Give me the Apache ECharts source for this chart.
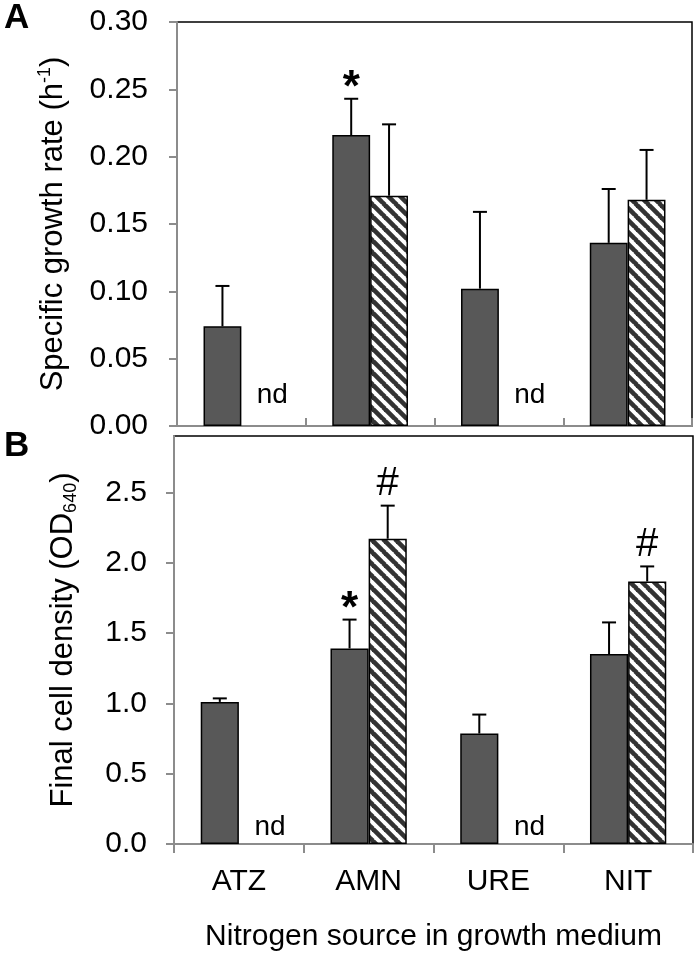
<!DOCTYPE html>
<html>
<head>
<meta charset="utf-8">
<script src="https://cdn.jsdelivr.net/npm/echarts@6/dist/echarts.min.js"></script>
<style>html,body{margin:0;padding:0;background:#fff}#c{width:700px;height:957px}</style>
</head>
<body>
<div id="c"></div>
<script>
// ---- data ----
const categories = ['ATZ', 'AMN', 'URE', 'NIT'];
// Panel A: specific growth rate (h^-1)
const growthDark = [0.074, 0.216, 0.102, 0.136];
const growthDarkErr = [0.030, 0.027, 0.057, 0.040];
const growthHatch = [null, 0.171, null, 0.168];
const growthHatchErr = [null, 0.053, null, 0.037];
const growthDarkMark = ['', '*', '', ''];
const growthHatchMark = ['nd', '', 'nd', ''];
// Panel B: final cell density (OD640)
const densityDark = [1.01, 1.39, 0.785, 1.35];
const densityDarkErr = [0.025, 0.205, 0.135, 0.225];
const densityHatch = [null, 2.17, null, 1.866];
const densityHatchErr = [null, 0.235, null, 0.107];
const densityDarkMark = ['', '*', '', ''];
const densityHatchMark = ['nd', '#', 'nd', '#'];
const yTicksB = [0, 0.5, 1.0, 1.5, 2.0, 2.5];

const FONT = '"Liberation Sans", Arial, sans-serif';
const BARW = 0.294;

// hatch pattern
function makeHatch() {
  const s = 12;
  const cv = document.createElement('canvas');
  cv.width = s; cv.height = s;
  const ctx = cv.getContext('2d');
  ctx.fillStyle = '#ffffff';
  ctx.fillRect(0, 0, s, s);
  ctx.strokeStyle = '#333333';
  ctx.lineWidth = 4.6;
  for (const k of [-s, 0, s]) {
    ctx.beginPath();
    ctx.moveTo(k - 1, -1);
    ctx.lineTo(k + s + 1, s + 1);
    ctx.stroke();
  }
  return cv;
}
const hatch = makeHatch();

function buildItems(dark, darkErr, darkMark, hat, hatErr, hatMark) {
  const items = [];
  categories.forEach((c, i) => {
    items.push({ cat: i, s: 0, v: dark[i], e: darkErr[i], m: darkMark[i] });
    items.push({ cat: i, s: 1, v: hat[i], e: hatErr[i], m: hatMark[i] });
  });
  return items;
}

const MARKS = {
  '*': { font: 'bold 44px ', size: 44, glyphCenter: 0.78, gap: 22 },
  '#': { font: '40px ', size: 40, glyphCenter: 0.56, gap: 24 }
};

function errorSeries(items, xi, ndLift) {
  return {
    type: 'custom',
    xAxisIndex: xi, yAxisIndex: xi,
    z: 5,
    data: items.map(it => [it.cat, it.v == null ? 0 : it.v, it.v == null ? 0 : it.e]),
    encode: { x: 0, y: 1 },
    renderItem: function (params, api) {
      const it = items[params.dataIndex];
      const cw = api.size([1, 0])[0];
      const bw = cw * BARW;
      const base = api.coord([it.cat, 0]);
      const cx = base[0] + (it.s === 0 ? -bw / 2 : bw / 2);
      const children = [];
      if (it.v == null) {
        if (it.m) {
          children.push({
            type: 'text',
            style: { text: it.m, x: cx + 12, y: base[1] - ndLift, align: 'center', verticalAlign: 'bottom',
              font: '28px ' + FONT, fill: '#000' }
          });
        }
        return { type: 'group', children };
      }
      const top = api.coord([it.cat, it.v]);
      const et = api.coord([it.cat, it.v + it.e]);
      children.push({ type: 'line', shape: { x1: cx, y1: top[1], x2: cx, y2: et[1] }, style: { stroke: '#000', lineWidth: 2 } });
      children.push({ type: 'line', shape: { x1: cx - 7, y1: et[1], x2: cx + 7, y2: et[1] }, style: { stroke: '#000', lineWidth: 2 } });
      if (it.m && MARKS[it.m]) {
        const mk = MARKS[it.m];
        children.push({
          type: 'text',
          style: { text: it.m, x: cx, y: et[1] - mk.gap + mk.glyphCenter * mk.size, align: 'center', verticalAlign: 'bottom',
            font: mk.font + FONT, fill: '#000' }
        });
      }
      return { type: 'group', children };
    }
  };
}

const itemsA = buildItems(growthDark, growthDarkErr, growthDarkMark, growthHatch, growthHatchErr, growthHatchMark);
const itemsB = buildItems(densityDark, densityDarkErr, densityDarkMark, densityHatch, densityHatchErr, densityHatchMark);

const darkStyle = { color: '#585858', borderColor: '#000', borderWidth: 1.5 };
const hatchStyle = { color: { image: hatch, repeat: 'repeat' }, borderColor: '#000', borderWidth: 1.5 };

const axisGray = { show: true, lineStyle: { color: '#8c8c8c', width: 2 } };

const chart = echarts.init(document.getElementById('c'), null, { renderer: 'canvas' });
chart.setOption({
  backgroundColor: '#fff',
  animation: false,
  textStyle: { fontFamily: FONT },
  grid: [
    { left: 177, top: 22, width: 515, height: 404, show: true, borderColor: '#000', borderWidth: 1.5, backgroundColor: 'transparent' },
    { left: 174, top: 436, width: 519, height: 408, show: true, borderColor: '#000', borderWidth: 1.5, backgroundColor: 'transparent' }
  ],
  xAxis: [
    { type: 'category', gridIndex: 0, data: categories, axisLine: axisGray,
      axisTick: { show: true, inside: true, length: 8, lineStyle: { color: '#8c8c8c', width: 2 } },
      axisLabel: { show: false }, splitLine: { show: false } },
    { type: 'category', gridIndex: 1, data: categories, axisLine: axisGray,
      axisTick: { show: true, inside: false, length: 9, lineStyle: { color: '#8c8c8c', width: 2 } },
      axisLabel: { show: true, margin: 23, fontSize: 30, color: '#000', fontFamily: FONT },
      name: 'Nitrogen source in growth medium', nameLocation: 'middle', nameGap: 78,
      nameTextStyle: { fontSize: 30, color: '#000', fontFamily: FONT },
      splitLine: { show: false } }
  ],
  yAxis: [
    { type: 'value', gridIndex: 0, min: 0, max: 0.30, interval: 0.05, axisLine: axisGray,
      axisTick: { show: true, length: 8, lineStyle: { color: '#8c8c8c', width: 2 } },
      axisLabel: { margin: 29, fontSize: 30, color: '#000', fontFamily: FONT, formatter: v => v.toFixed(2) },
      splitLine: { show: false },
      name: '{t|Specific growth rate (h}{sup|-1}{t|)}', nameLocation: 'middle', nameGap: 107, nameRotate: 90,
      nameTextStyle: { rich: {
        t: { fontSize: 31, color: '#000', fontFamily: FONT, lineHeight: 34 },
        sup: { fontSize: 18, color: '#000', fontFamily: FONT, verticalAlign: 'top', lineHeight: 34 }
      } } },
    { type: 'value', gridIndex: 1, min: 0, max: 2.9, interval: 0.5, axisLine: axisGray,
      axisTick: { show: true, length: 8, customValues: yTicksB, lineStyle: { color: '#8c8c8c', width: 2 } },
      axisLabel: { margin: 27, fontSize: 30, color: '#000', fontFamily: FONT, customValues: yTicksB, formatter: v => v.toFixed(1) },
      splitLine: { show: false },
      name: '{t|Final cell density (OD}{sub|640}{t|)}', nameLocation: 'middle', nameGap: 94, nameRotate: 90,
      nameTextStyle: { rich: {
        t: { fontSize: 31, color: '#000', fontFamily: FONT, lineHeight: 34 },
        sub: { fontSize: 18, color: '#000', fontFamily: FONT, verticalAlign: 'bottom', lineHeight: 34 }
      } } }
  ],
  series: [
    { type: 'bar', xAxisIndex: 0, yAxisIndex: 0, data: growthDark, barWidth: (BARW * 100) + '%', barGap: '0%', itemStyle: darkStyle, z: 2 },
    { type: 'bar', xAxisIndex: 0, yAxisIndex: 0, data: growthHatch, barWidth: (BARW * 100) + '%', barGap: '0%', itemStyle: hatchStyle, z: 2 },
    { type: 'bar', xAxisIndex: 1, yAxisIndex: 1, data: densityDark, barWidth: (BARW * 100) + '%', barGap: '0%', itemStyle: darkStyle, z: 2 },
    { type: 'bar', xAxisIndex: 1, yAxisIndex: 1, data: densityHatch, barWidth: (BARW * 100) + '%', barGap: '0%', itemStyle: hatchStyle, z: 2 },
    errorSeries(itemsA, 0, 17),
    errorSeries(itemsB, 1, 3)
  ],
  graphic: [
    { type: 'text', left: 4, top: 1, style: { text: 'A', font: 'bold 35px ' + FONT, fill: '#000' } },
    { type: 'text', left: 4, top: 429, style: { text: 'B', font: 'bold 35px ' + FONT, fill: '#000' } }
  ]
});
</script>
</body>
</html>
